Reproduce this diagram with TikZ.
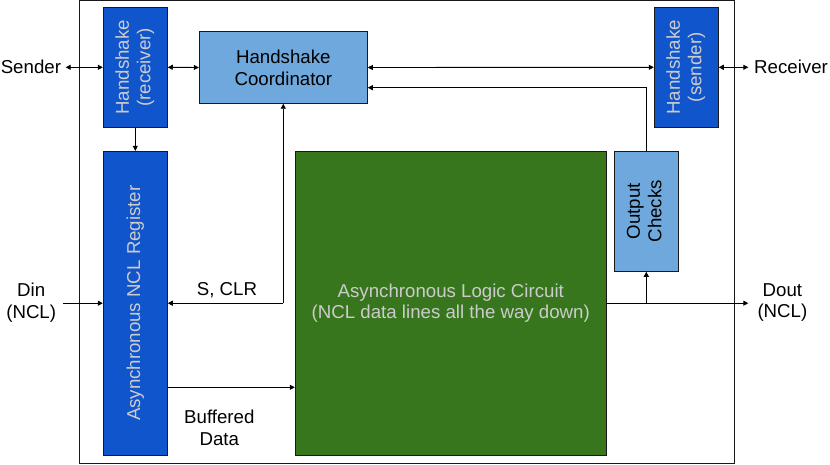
\documentclass[tikz,border=0pt]{standalone}
\usepackage{fontspec}
\setmainfont{Liberation Sans}
\usetikzlibrary{arrows.meta}
\definecolor{hsblue}{HTML}{1155CC}
\definecolor{coordblue}{HTML}{6FA8DC}
\definecolor{logicgreen}{HTML}{38761D}
\definecolor{boxtext}{HTML}{CCCCCC}
\begin{document}
\begin{tikzpicture}[
    x=1pt, y=-1pt,
    every node/.style={font=\fontsize{18.67}{21.7}\selectfont, align=center},
    block/.style={rectangle, draw=black!90, line width=0.9pt, inner sep=0pt},
    darkblock/.style={block, fill=hsblue, text=boxtext},
    lightblock/.style={block, fill=coordblue, text=black},
    logicblock/.style={block, fill=logicgreen, text=boxtext},
    plainlabel/.style={inner sep=0pt},
    arrowstyle/.style={draw, line width=0.9pt, -{Triangle[length=5pt,width=5pt]}},
    dblarrow/.style={draw, line width=0.9pt,
        {Triangle[length=5pt,width=5pt]}-{Triangle[length=5pt,width=5pt]}}
]
\useasboundingbox (0,0) rectangle (830,465);
% outer frame
\draw[line width=0.9pt, black!90] (79.3,0.8) rectangle (734.3,463.3);

% blocks
\node (HsReceiver) [darkblock, minimum width=64, minimum height=120] at (135.3,67.3)
  {\rotatebox{90}{\begin{tabular}{@{}c@{}}Handshake\\(receiver)\end{tabular}}};
\node (Coordinator) [lightblock, minimum width=168, minimum height=71.6] at (283.3,67.5)
  {Handshake\\Coordinator};
\node (HsSender) [darkblock, minimum width=64, minimum height=120] at (686.3,67.3)
  {\rotatebox{90}{\begin{tabular}{@{}c@{}}Handshake\\(sender)\end{tabular}}};
\node (Register) [darkblock, minimum width=64, minimum height=303.7] at (135.3,303.2)
  {\rotatebox{90}{Asynchronous NCL Register}};
\node (Logic) [logicblock, minimum width=311, minimum height=303.7] at (450.8,303.2)
  {Asynchronous Logic Circuit\\(NCL data lines all the way down)};
\node (Checks) [lightblock, minimum width=64, minimum height=120] at (646.3,211.3)
  {\rotatebox{90}{\begin{tabular}{@{}c@{}}Output\\Checks\end{tabular}}};

% outside labels
\node (Sender) [plainlabel, inner xsep=4.5pt, anchor=east] at (65.7,67.3) {Sender};
\node (Receiver) [plainlabel, inner xsep=5.7pt, anchor=west] at (748.3,67.3) {Receiver};
\node (Din) [plainlabel, inner xsep=7pt, anchor=east] at (63.3,302.5) {Din\\(NCL)};
\node (Dout) [plainlabel, inner xsep=9pt, anchor=west] at (748.3,302.5) {Dout\\(NCL)};
\node (SClrLabel) [plainlabel] at (227,290) {S, CLR};
\node (BufLabel) [plainlabel] at (219.3,428) {Buffered\\Data};

% handshake chain
\draw[dblarrow] (Sender.east) -- (HsReceiver.west);
\draw[dblarrow] (HsReceiver.east) -- (Coordinator.west);
\draw[dblarrow] (Coordinator.east) -- (HsSender.west);
\draw[dblarrow] (HsSender.east) -- (Receiver.west);
\draw[arrowstyle] (HsReceiver.south) -- (Register.north);

% data path
\draw[arrowstyle] (Din.east |- Register.west) -- (Register.west);
\coordinate (SplitSC) at (Coordinator.south |- Register.east);
\draw[arrowstyle] (SplitSC) -- (Coordinator.south);
\draw[arrowstyle] (SplitSC) -- (Register.east);
\coordinate (BufStart) at ([yshift=-84.1pt]Register.east);
\draw[arrowstyle] (BufStart) -- (Logic.west |- BufStart);
\draw[arrowstyle] (Logic.east) -- (Dout.west |- Logic.east);
\coordinate (SplitOut) at (Checks.south |- Logic.east);
\draw[arrowstyle] (SplitOut) -- (Checks.south);
\draw[arrowstyle] (Checks.north) |- ([yshift=-20.2pt]Coordinator.east);
\end{tikzpicture}
\end{document}
